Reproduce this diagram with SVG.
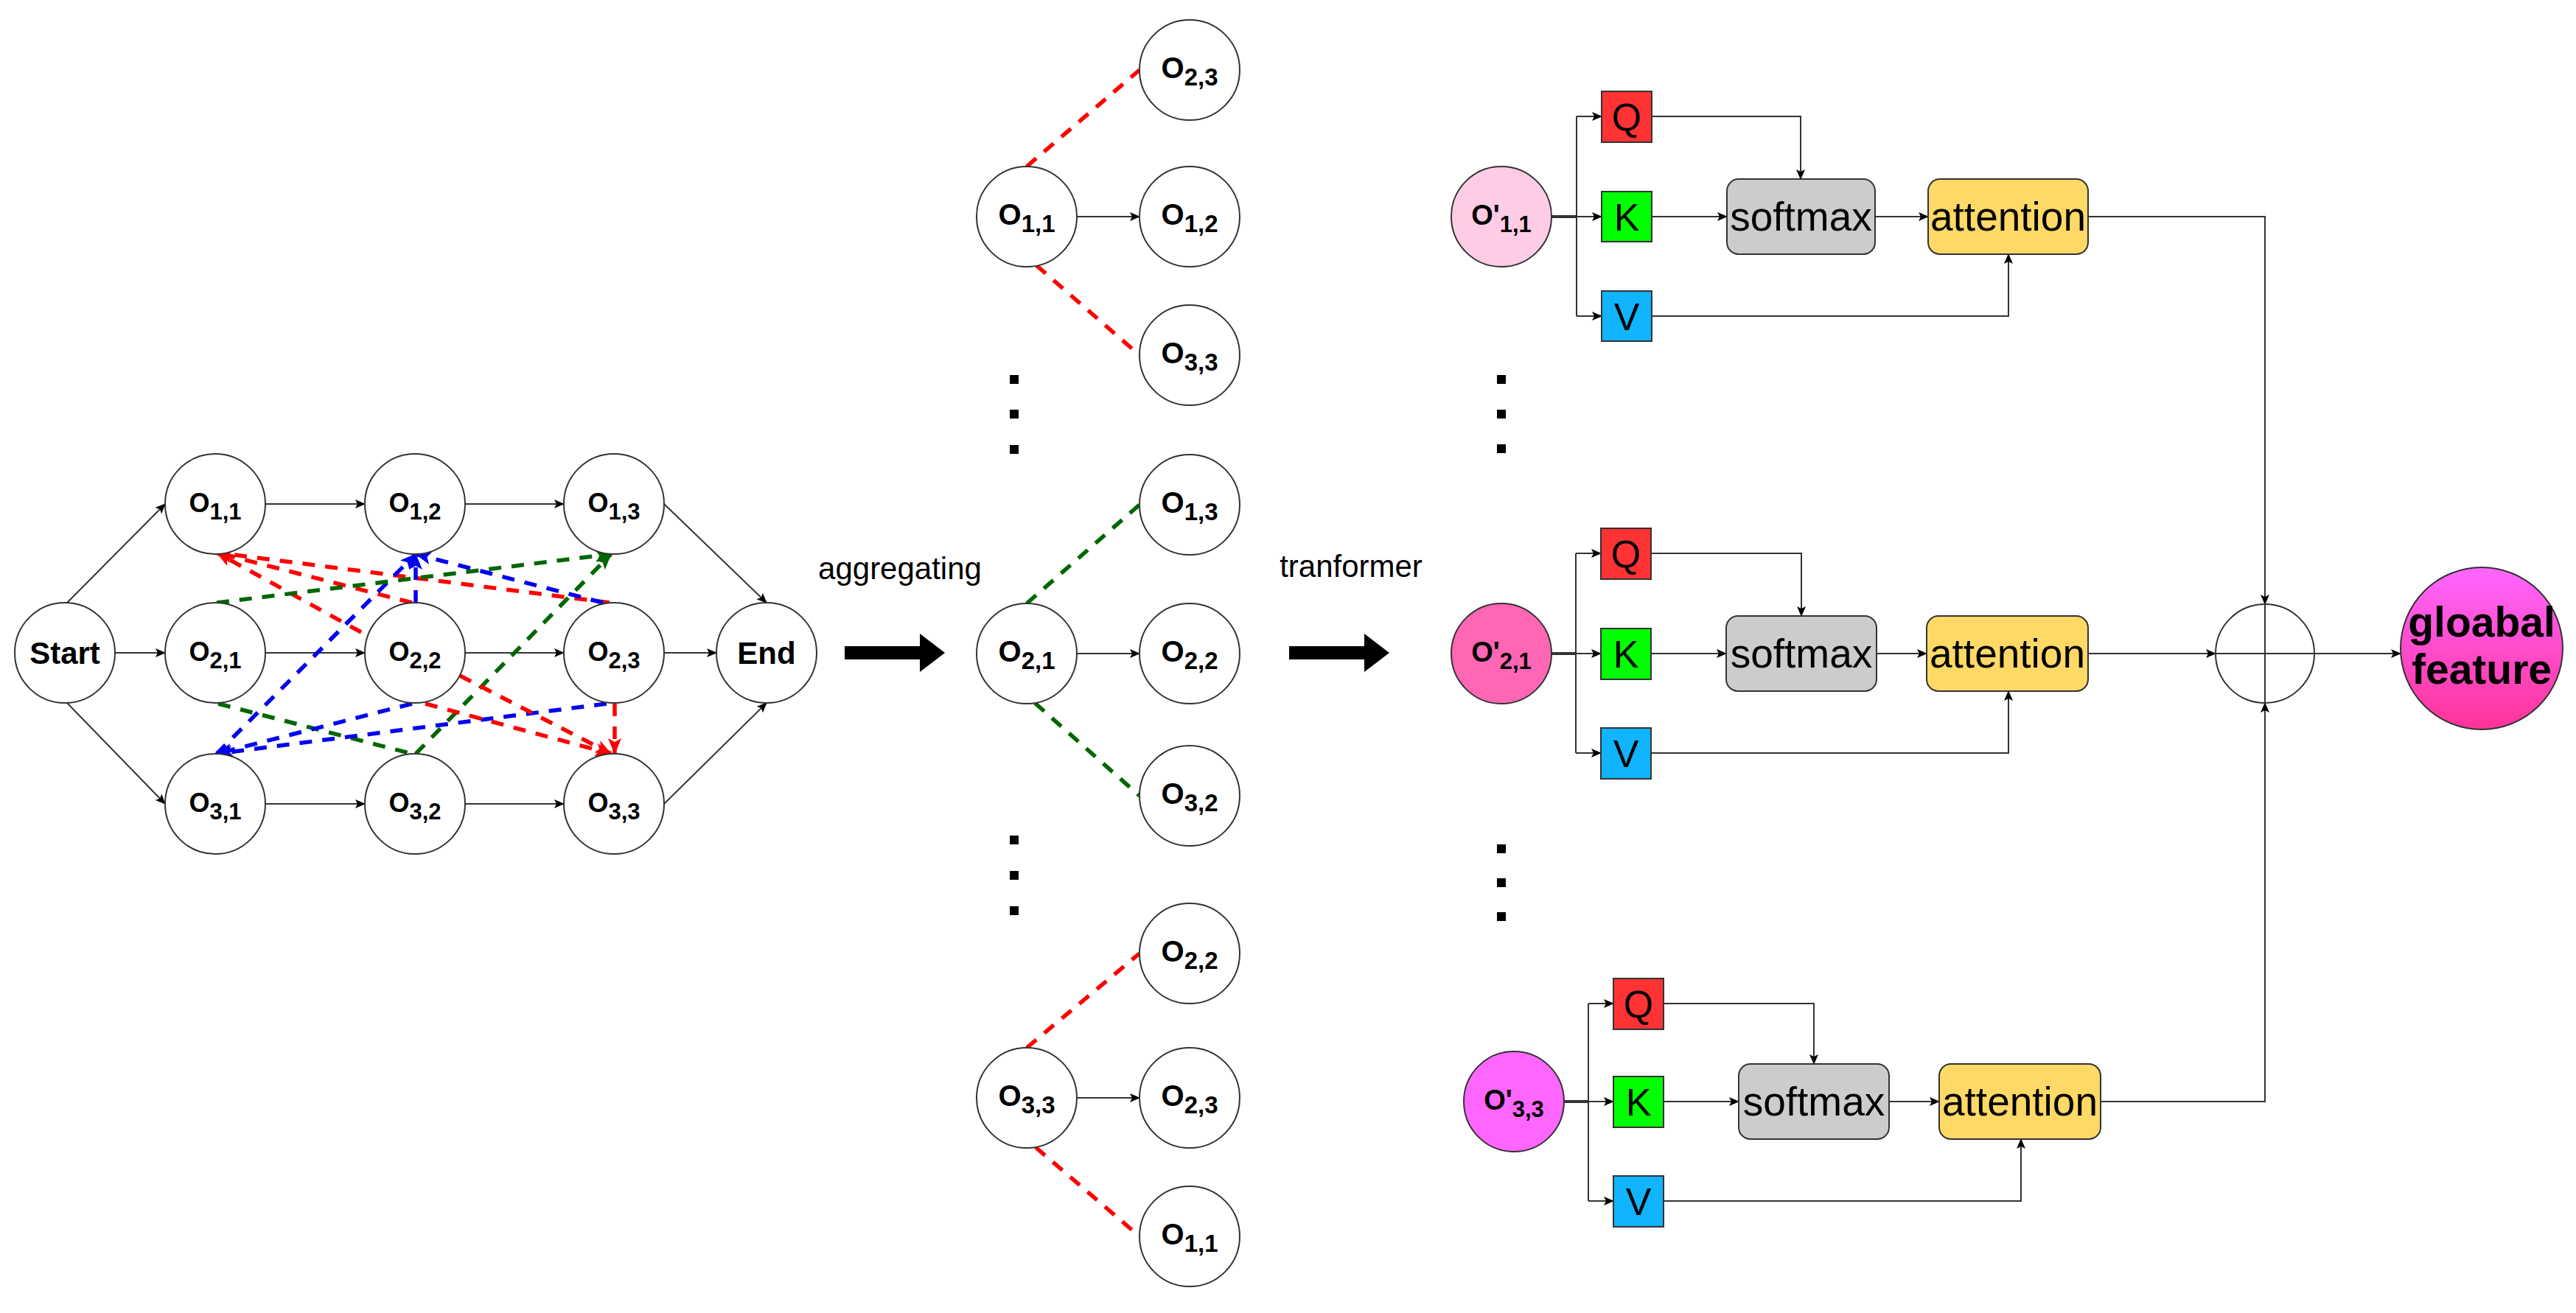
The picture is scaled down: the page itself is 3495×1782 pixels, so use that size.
<svg xmlns="http://www.w3.org/2000/svg" width="3495" height="1782" viewBox="0 0 3495 1782">
<style>
.n{fill:#fff;stroke:#333;stroke-width:2}
.t{font-family:"Liberation Sans",Arial,sans-serif;fill:#000}
.lb{font-weight:bold;font-size:36px}
.mb{font-weight:bold;font-size:40px}
.c{fill:none;stroke:#333;stroke-width:2}
.dr{fill:none;stroke:#f00;stroke-width:5.5;stroke-dasharray:17 14}
.dg{fill:none;stroke:#006600;stroke-width:5.5;stroke-dasharray:17 14}
.db{fill:none;stroke:#0000ee;stroke-width:5.5;stroke-dasharray:17 14}
.box{stroke:#333;stroke-width:2}
.bt{font-family:"Liberation Sans",Arial,sans-serif;font-size:52px;fill:#000}
.st{font-family:"Liberation Sans",Arial,sans-serif;font-size:55px;fill:#000}
</style>
<defs>
<marker id="a" markerUnits="userSpaceOnUse" markerWidth="14" markerHeight="12" refX="13" refY="6" orient="auto"><path d="M0,0 L14,6 L0,12 L3,6 Z" fill="#000"/></marker>
<marker id="ar" markerUnits="userSpaceOnUse" markerWidth="22" markerHeight="18" refX="21" refY="9" orient="auto"><path d="M0,0 L22,9 L0,18 L5,9 Z" fill="#f00"/></marker>
<marker id="ag" markerUnits="userSpaceOnUse" markerWidth="22" markerHeight="18" refX="21" refY="9" orient="auto"><path d="M0,0 L22,9 L0,18 L5,9 Z" fill="#006600"/></marker>
<marker id="ab" markerUnits="userSpaceOnUse" markerWidth="22" markerHeight="18" refX="21" refY="9" orient="auto"><path d="M0,0 L22,9 L0,18 L5,9 Z" fill="#0000ee"/></marker>
<linearGradient id="gf" x1="0" y1="0" x2="0" y2="1"><stop offset="0" stop-color="#ff66ff"/><stop offset="1" stop-color="#ff3399"/></linearGradient>
</defs>
<rect width="3495" height="1782" fill="#fff"/>

<g id="connectors">
<path class="c" d="M91,818 L224,684" marker-end="url(#a)"/>
<path class="c" d="M156,886 L224,886" marker-end="url(#a)"/>
<path class="c" d="M91,954 L224,1091" marker-end="url(#a)"/>
<path class="c" d="M360,684 L495,684" marker-end="url(#a)"/>
<path class="c" d="M631,684 L765,684" marker-end="url(#a)"/>
<path class="c" d="M360,886 L495,886" marker-end="url(#a)"/>
<path class="c" d="M631,886 L765,886" marker-end="url(#a)"/>
<path class="c" d="M360,1091 L495,1091" marker-end="url(#a)"/>
<path class="c" d="M631,1091 L765,1091" marker-end="url(#a)"/>
<path class="c" d="M901,684 L1040,818" marker-end="url(#a)"/>
<path class="c" d="M901,886 L972,886" marker-end="url(#a)"/>
<path class="c" d="M901,1091 L1040,954" marker-end="url(#a)"/>
<path class="dr" d="M827,818 L294,750" marker-end="url(#ar)"/>
<path class="dr" d="M559,818 L294,750" marker-end="url(#ar)"/>
<path class="dr" d="M490,858 L294,750" marker-end="url(#ar)"/>
<path class="db" d="M818,818 L564,752" marker-end="url(#ab)"/>
<path class="db" d="M564,818 L564,752" marker-end="url(#ab)"/>
<path class="db" d="M294,1023 L564,752" marker-end="url(#ab)"/>
<path class="dg" d="M294,818 L829,752" marker-end="url(#ag)"/>
<path class="dg" d="M564,1023 L829,752" marker-end="url(#ag)"/>
<path class="dg" d="M296,955 L559,1023"/>
<path class="db" d="M559,955 L294,1023" marker-end="url(#ab)"/>
<path class="db" d="M823,955 L294,1023" marker-end="url(#ab)"/>
<path class="dr" d="M624,917 L829,1023" marker-end="url(#ar)"/>
<path class="dr" d="M577,955 L829,1023" marker-end="url(#ar)"/>
<path class="dr" d="M834,955 L834,1023" marker-end="url(#ar)"/>
<path class="c" d="M1461,294 L1546,294" marker-end="url(#a)"/>
<path class="c" d="M1461,887 L1546,887" marker-end="url(#a)"/>
<path class="c" d="M1461,1490 L1546,1490" marker-end="url(#a)"/>
<path class="dr" d="M1393,226 L1546,95"/>
<path class="dr" d="M1406,360 L1546,482"/>
<path class="dg" d="M1393,819 L1546,685"/>
<path class="dg" d="M1404,954 L1546,1080"/>
<path class="dr" d="M1393,1422 L1546,1294"/>
<path class="dr" d="M1405,1557 L1546,1678"/>
<path d="M1146,877 L1248,877 L1248,860 L1282,886 L1248,912 L1248,895 L1146,895 Z" fill="#000"/>
<path d="M1749,877 L1851,877 L1851,860 L1885,886 L1851,912 L1851,895 L1749,895 Z" fill="#000"/>
<path class="c" d="M2105,294 L2139,294" style="stroke-width:4"/>
<path class="c" d="M2139,158 L2139,429"/>
<path class="c" d="M2139,158 L2173,158" marker-end="url(#a)"/>
<path class="c" d="M2139,294 L2173,294" marker-end="url(#a)"/>
<path class="c" d="M2139,429 L2173,429" marker-end="url(#a)"/>
<path class="c" d="M2241,158 L2443,158 L2443,243" marker-end="url(#a)"/>
<path class="c" d="M2241,294 L2343,294" marker-end="url(#a)"/>
<path class="c" d="M2544,294 L2616,294" marker-end="url(#a)"/>
<path class="c" d="M2241,429 L2725,429 L2725,345" marker-end="url(#a)"/>
<path class="c" d="M2833,294 L3073,294 L3073,820" marker-end="url(#a)"/>
<path class="c" d="M2105,887 L2138,887" style="stroke-width:4"/>
<path class="c" d="M2138,751 L2138,1022"/>
<path class="c" d="M2138,751 L2172,751" marker-end="url(#a)"/>
<path class="c" d="M2138,887 L2172,887" marker-end="url(#a)"/>
<path class="c" d="M2138,1022 L2172,1022" marker-end="url(#a)"/>
<path class="c" d="M2240,751 L2444,751 L2444,836" marker-end="url(#a)"/>
<path class="c" d="M2240,887 L2342,887" marker-end="url(#a)"/>
<path class="c" d="M2546,887 L2614,887" marker-end="url(#a)"/>
<path class="c" d="M2240,1022 L2725,1022 L2725,938" marker-end="url(#a)"/>
<path class="c" d="M2833,887 L3006,887" marker-end="url(#a)"/>
<path class="c" d="M2122,1495 L2155,1495" style="stroke-width:4"/>
<path class="c" d="M2155,1362 L2155,1630"/>
<path class="c" d="M2155,1362 L2189,1362" marker-end="url(#a)"/>
<path class="c" d="M2155,1495 L2189,1495" marker-end="url(#a)"/>
<path class="c" d="M2155,1630 L2189,1630" marker-end="url(#a)"/>
<path class="c" d="M2257,1362 L2461,1362 L2461,1444" marker-end="url(#a)"/>
<path class="c" d="M2257,1495 L2359,1495" marker-end="url(#a)"/>
<path class="c" d="M2563,1495 L2631,1495" marker-end="url(#a)"/>
<path class="c" d="M2257,1630 L2742,1630 L2742,1546" marker-end="url(#a)"/>
<path class="c" d="M2850,1495 L3073,1495 L3073,954" marker-end="url(#a)"/>
<path class="c" d="M3140,887 L3257,887" marker-end="url(#a)"/>
</g>

<g id="left-graph">
<g id="start"><circle class="n" cx="88" cy="886" r="68"/><text class="t" x="88" y="901" font-size="42" font-weight="bold" text-anchor="middle">Start</text></g>
<g id="o11"><circle class="n" cx="292" cy="684" r="68"/><text class="t lb" x="292" y="695" text-anchor="middle">O<tspan font-size="31" dy="10">1,1</tspan></text></g>
<g id="o12"><circle class="n" cx="563" cy="684" r="68"/><text class="t lb" x="563" y="695" text-anchor="middle">O<tspan font-size="31" dy="10">1,2</tspan></text></g>
<g id="o13"><circle class="n" cx="833" cy="684" r="68"/><text class="t lb" x="833" y="695" text-anchor="middle">O<tspan font-size="31" dy="10">1,3</tspan></text></g>
<g id="o21"><circle class="n" cx="292" cy="886" r="68"/><text class="t lb" x="292" y="897" text-anchor="middle">O<tspan font-size="31" dy="10">2,1</tspan></text></g>
<g id="o22"><circle class="n" cx="563" cy="886" r="68"/><text class="t lb" x="563" y="897" text-anchor="middle">O<tspan font-size="31" dy="10">2,2</tspan></text></g>
<g id="o23"><circle class="n" cx="833" cy="886" r="68"/><text class="t lb" x="833" y="897" text-anchor="middle">O<tspan font-size="31" dy="10">2,3</tspan></text></g>
<g id="o31"><circle class="n" cx="292" cy="1091" r="68"/><text class="t lb" x="292" y="1102" text-anchor="middle">O<tspan font-size="31" dy="10">3,1</tspan></text></g>
<g id="o32"><circle class="n" cx="563" cy="1091" r="68"/><text class="t lb" x="563" y="1102" text-anchor="middle">O<tspan font-size="31" dy="10">3,2</tspan></text></g>
<g id="o33"><circle class="n" cx="833" cy="1091" r="68"/><text class="t lb" x="833" y="1102" text-anchor="middle">O<tspan font-size="31" dy="10">3,3</tspan></text></g>
<g id="end"><circle class="n" cx="1040" cy="886" r="68"/><text class="t" x="1040" y="901" font-size="42" font-weight="bold" text-anchor="middle">End</text></g>
</g>

<g id="labels">
<text class="t" x="1221" y="786" font-size="42" text-anchor="middle">aggregating</text>
<text class="t" x="1833" y="783" font-size="42" text-anchor="middle">tranformer</text>
</g>

<g id="middle-column">
<g id="m-o11"><circle class="n" cx="1393" cy="294" r="68"/><text class="t mb" x="1393" y="305" text-anchor="middle">O<tspan font-size="33" dy="10">1,1</tspan></text></g>
<g id="m-o23a"><circle class="n" cx="1614" cy="95" r="68"/><text class="t mb" x="1614" y="106" text-anchor="middle">O<tspan font-size="33" dy="10">2,3</tspan></text></g>
<g id="m-o12"><circle class="n" cx="1614" cy="294" r="68"/><text class="t mb" x="1614" y="305" text-anchor="middle">O<tspan font-size="33" dy="10">1,2</tspan></text></g>
<g id="m-o33a"><circle class="n" cx="1614" cy="482" r="68"/><text class="t mb" x="1614" y="493" text-anchor="middle">O<tspan font-size="33" dy="10">3,3</tspan></text></g>
<g id="m-o21"><circle class="n" cx="1393" cy="887" r="68"/><text class="t mb" x="1393" y="898" text-anchor="middle">O<tspan font-size="33" dy="10">2,1</tspan></text></g>
<g id="m-o13"><circle class="n" cx="1614" cy="685" r="68"/><text class="t mb" x="1614" y="696" text-anchor="middle">O<tspan font-size="33" dy="10">1,3</tspan></text></g>
<g id="m-o22a"><circle class="n" cx="1614" cy="887" r="68"/><text class="t mb" x="1614" y="898" text-anchor="middle">O<tspan font-size="33" dy="10">2,2</tspan></text></g>
<g id="m-o32"><circle class="n" cx="1614" cy="1080" r="68"/><text class="t mb" x="1614" y="1091" text-anchor="middle">O<tspan font-size="33" dy="10">3,2</tspan></text></g>
<g id="m-o33"><circle class="n" cx="1393" cy="1490" r="68"/><text class="t mb" x="1393" y="1501" text-anchor="middle">O<tspan font-size="33" dy="10">3,3</tspan></text></g>
<g id="m-o22b"><circle class="n" cx="1614" cy="1294" r="68"/><text class="t mb" x="1614" y="1305" text-anchor="middle">O<tspan font-size="33" dy="10">2,2</tspan></text></g>
<g id="m-o23b"><circle class="n" cx="1614" cy="1490" r="68"/><text class="t mb" x="1614" y="1501" text-anchor="middle">O<tspan font-size="33" dy="10">2,3</tspan></text></g>
<g id="m-o11b"><circle class="n" cx="1614" cy="1678" r="68"/><text class="t mb" x="1614" y="1689" text-anchor="middle">O<tspan font-size="33" dy="10">1,1</tspan></text></g>
</g>

<g id="dots" fill="#000">
<rect x="1370" y="509" width="12" height="12"/><rect x="1370" y="556" width="12" height="12"/><rect x="1370" y="604" width="12" height="12"/>
<rect x="1370" y="1134" width="12" height="12"/><rect x="1370" y="1182" width="12" height="12"/><rect x="1370" y="1230" width="12" height="12"/>
<rect x="2031" y="509" width="12" height="12"/><rect x="2031" y="556" width="12" height="12"/><rect x="2031" y="603" width="12" height="12"/>
<rect x="2031" y="1146" width="12" height="12"/><rect x="2031" y="1192" width="12" height="12"/><rect x="2031" y="1238" width="12" height="12"/>
</g>

<g id="row1">
<g id="op11"><circle cx="2037" cy="294" r="68" fill="#ffcce6" stroke="#333" stroke-width="2"/><text class="t" x="2037" y="305" font-size="38" font-weight="bold" text-anchor="middle">O'<tspan font-size="31" dy="10">1,1</tspan></text></g>
<g id="q1"><rect class="box" x="2173" y="124" width="68" height="69" fill="#ff3333"/><text class="bt" x="2207" y="177" text-anchor="middle">Q</text></g>
<g id="k1"><rect class="box" x="2173" y="260" width="68" height="68" fill="#00ff00"/><text class="bt" x="2207" y="313" text-anchor="middle">K</text></g>
<g id="v1"><rect class="box" x="2173" y="395" width="68" height="68" fill="#10b4ff"/><text class="bt" x="2207" y="448" text-anchor="middle">V</text></g>
<g id="s1"><rect class="box" x="2343" y="243" width="201" height="102" rx="16" fill="#cccccc"/><text class="st" x="2443.5" y="313" text-anchor="middle">softmax</text></g>
<g id="at1"><rect class="box" x="2616" y="243" width="217" height="102" rx="16" fill="#ffd966"/><text class="st" x="2724.5" y="313" text-anchor="middle">attention</text></g>
</g>

<g id="row2">
<g id="op21"><circle cx="2037" cy="887" r="68" fill="#ff66b3" stroke="#333" stroke-width="2"/><text class="t" x="2037" y="898" font-size="38" font-weight="bold" text-anchor="middle">O'<tspan font-size="31" dy="10">2,1</tspan></text></g>
<g id="q2"><rect class="box" x="2172" y="717" width="68" height="69" fill="#ff3333"/><text class="bt" x="2206" y="770" text-anchor="middle">Q</text></g>
<g id="k2"><rect class="box" x="2172" y="853" width="68" height="69" fill="#00ff00"/><text class="bt" x="2206" y="906" text-anchor="middle">K</text></g>
<g id="v2"><rect class="box" x="2172" y="988" width="68" height="69" fill="#10b4ff"/><text class="bt" x="2206" y="1041" text-anchor="middle">V</text></g>
<g id="s2"><rect class="box" x="2342" y="836" width="204" height="102" rx="16" fill="#cccccc"/><text class="st" x="2444" y="906" text-anchor="middle">softmax</text></g>
<g id="at2"><rect class="box" x="2614" y="836" width="219" height="102" rx="16" fill="#ffd966"/><text class="st" x="2723.5" y="906" text-anchor="middle">attention</text></g>
</g>

<g id="row3">
<g id="op33"><circle cx="2054" cy="1495" r="68" fill="#ff66ff" stroke="#333" stroke-width="2"/><text class="t" x="2054" y="1506" font-size="38" font-weight="bold" text-anchor="middle">O'<tspan font-size="31" dy="10">3,3</tspan></text></g>
<g id="q3"><rect class="box" x="2189" y="1328" width="68" height="69" fill="#ff3333"/><text class="bt" x="2223" y="1381" text-anchor="middle">Q</text></g>
<g id="k3"><rect class="box" x="2189" y="1461" width="68" height="69" fill="#00ff00"/><text class="bt" x="2223" y="1514" text-anchor="middle">K</text></g>
<g id="v3"><rect class="box" x="2189" y="1596" width="68" height="69" fill="#10b4ff"/><text class="bt" x="2223" y="1649" text-anchor="middle">V</text></g>
<g id="s3"><rect class="box" x="2359" y="1444" width="204" height="102" rx="16" fill="#cccccc"/><text class="st" x="2461" y="1514" text-anchor="middle">softmax</text></g>
<g id="at3"><rect class="box" x="2631" y="1444" width="219" height="102" rx="16" fill="#ffd966"/><text class="st" x="2740.5" y="1514" text-anchor="middle">attention</text></g>
</g>

<g id="sum">
<circle cx="3073" cy="887" r="67" fill="#fff" stroke="#333" stroke-width="2"/>
<path d="M3073,820 L3073,954 M3006,887 L3140,887" stroke="#333" stroke-width="2"/>
</g>

<g id="global-feature">
<circle cx="3367" cy="880" r="110" fill="url(#gf)" stroke="#333" stroke-width="2"/>
<text class="t" x="3367" y="864" font-size="57" font-weight="bold" text-anchor="middle">gloabal</text>
<text class="t" x="3367" y="928" font-size="57" font-weight="bold" text-anchor="middle">feature</text>
</g>
</svg>
